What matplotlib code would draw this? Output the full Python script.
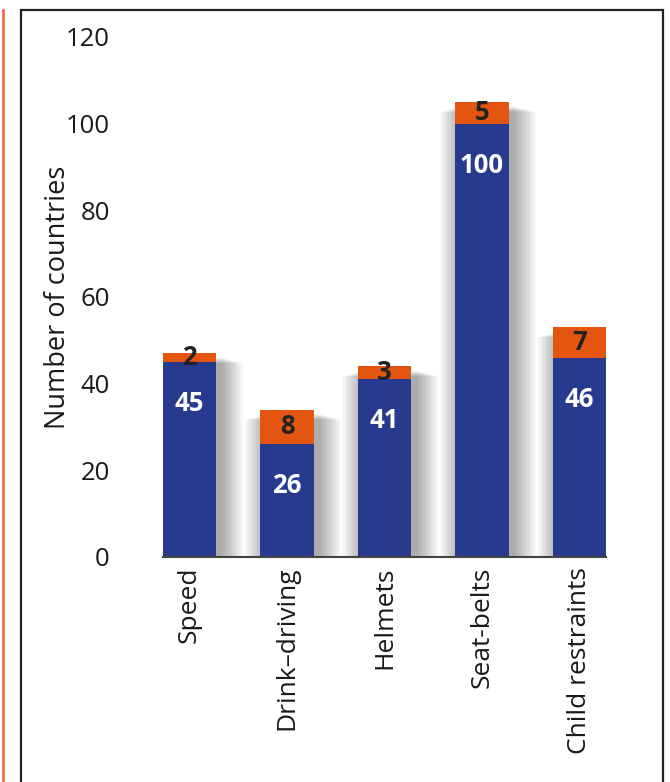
import numpy as np
import matplotlib.pyplot as plt
from matplotlib.patches import Rectangle
from matplotlib.lines import Line2D

categories = ["Speed", "Drink\u2013driving", "Helmets", "Seat-belts", "Child restraints"]
blue_vals = [45, 26, 41, 100, 46]
orange_vals = [2, 8, 3, 5, 7]

blue = "#283a8e"
orange = "#e4560f"

plt.rcParams['font.family'] = ['Open Sans', 'DejaVu Sans']

W, H = 670, 782
fig = plt.figure(figsize=(W / 100, H / 100), dpi=100)
ax = fig.add_axes([162.7 / W, (H - 557) / H, 443.6 / W, 520 / H])

x = np.arange(len(categories))
w = 0.55
tot = np.array(blue_vals) + np.array(orange_vals)

# soft drop shadow, darker close to the bar
for s in np.linspace(0.0, 0.22, 18):
    ax.bar(x + 0.06, tot - 1 - s * 6, width=w + 2 * s, bottom=0,
           color="black", alpha=0.02, zorder=1, linewidth=0)

ax.bar(x, blue_vals, width=w, color=blue, zorder=3, linewidth=0)
ax.bar(x, orange_vals, width=w, bottom=blue_vals, color=orange, zorder=3, linewidth=0)

for i in range(len(categories)):
    ax.text(x[i], blue_vals[i] - 9.6, str(blue_vals[i]), ha="center", va="center",
            color="white", fontsize=18.5, fontweight="bold", zorder=4)
    ax.text(x[i], blue_vals[i] + orange_vals[i] / 2, str(orange_vals[i]), ha="center",
            va="center", color="#222222", fontsize=18.5, fontweight="bold", zorder=4)

ax.set_xlim(-w / 2, len(categories) - 1 + w / 2)
ax.set_ylim(0, 120)
ax.set_yticks(range(0, 121, 20))
ax.set_xticks(x)
ax.set_xticklabels(categories, rotation=90, fontsize=19, color="#1a1a1a")
ax.tick_params(axis="y", length=0, pad=38, labelsize=18.5, labelcolor="#1a1a1a")
ax.tick_params(axis="x", length=0, pad=7)
for sp in ["top", "right", "left"]:
    ax.spines[sp].set_visible(False)
ax.spines["bottom"].set_color("#444444")
ax.spines["bottom"].set_linewidth(1.5)
ax.spines["bottom"].set_zorder(5)

ax.set_ylabel("Number of countries", fontsize=19.5, color="#1a1a1a", va="center")
ax.yaxis.set_label_coords(-0.236, 0.5)

# frame around the chart and the orange rule at the left
fig.add_artist(Rectangle((21 / W, -0.05), (663 - 21) / W, 1.05 - 10 / H,
                         transform=fig.transFigure, fill=False,
                         edgecolor="#222222", linewidth=1.6))
fig.add_artist(Line2D([3 / W, 3 / W], [0, 1 - 10 / H], transform=fig.transFigure,
                      color="#ff5a36", linewidth=1.8))

fig.savefig("out.png", dpi=100)
